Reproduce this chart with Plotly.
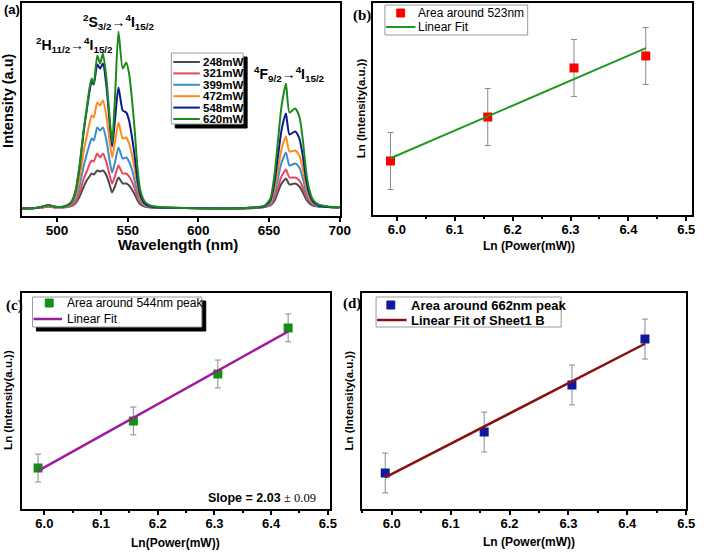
import plotly.graph_objects as go
import numpy as np

# ---------------- data ----------------
wavelength = [475, 485, 490, 494, 498, 503, 507, 510, 513, 516, 519, 521, 523, 524.5, 526,
              528.5, 530.5, 532.5, 535, 537, 539, 541, 543.5, 546.5, 549, 551, 553, 555, 557,
              559, 562, 566, 572, 590, 620, 640, 647, 651, 654, 656.5, 658.5, 660, 662, 664.5,
              668.5, 671.5, 674, 676, 678, 681, 685, 692, 700]

power_labels = ["248mW", "321mW", "399mW", "472mW", "548mW", "620mW"]

int_248 = [0, 0.5, 1, 2, 1, 1, 1.5, 2.5, 5, 12, 22, 28, 32, 35, 34, 38, 37, 38, 33, 25, 16, 22, 31,
           25, 25, 23, 19, 14, 8, 4, 2, 1, 0.5, 0.5, 0, 0.5, 1.5, 3, 8, 17, 24, 27, 30, 24, 25, 22,
           16, 10, 6, 3, 2, 1.5, 1]
int_321 = [0, 0.5, 1, 2, 1, 1, 1.5, 3, 6, 16, 30, 37, 44, 48, 47, 55, 51, 55, 46, 35, 25, 32, 43,
           35, 35, 32, 27, 20, 11, 6, 3, 1.5, 1, 0.5, 0, 0.5, 1.5, 4, 11, 22, 31, 35, 39, 31, 31, 28,
           21, 13, 8, 4, 2, 1.5, 1]
int_399 = [0, 0.5, 1.5, 2.5, 1.5, 1, 2, 4, 9, 23, 43, 54, 64, 70, 68, 81, 78, 81, 68, 50, 36, 46, 61,
           50, 51, 47, 39, 28, 16, 8, 3, 1.5, 1, 0.5, 0, 1, 2, 5, 15, 31, 44, 50, 56, 43, 45, 41,
           30, 18, 10, 5, 2, 1.5, 1]
int_472 = [0, 0.5, 1.5, 3, 1.5, 1, 2.5, 5, 12, 31, 58, 72, 85, 93, 91, 106, 103, 108, 92, 70, 51, 66,
           86, 70, 71, 65, 54, 39, 22, 10, 4, 2, 1, 0.5, 0, 1, 2.5, 6, 20, 40, 57, 65, 72, 57, 58,
           53, 39, 24, 13, 6, 3, 1.5, 1]
int_548 = [0, 0.5, 2, 3.5, 2, 1.5, 3, 6, 16, 42, 78, 98, 117, 127, 124, 144, 140, 145, 122, 90, 62,
           88, 121, 98, 96, 88, 72, 52, 28, 13, 5, 2, 1, 0.5, 0, 1, 2.5, 8, 27, 54, 75, 86, 95, 74,
           77, 70, 52, 31, 17, 7, 3, 1.5, 1]
int_620 = [0, 0.5, 2, 3.5, 2, 1.5, 3, 6, 17, 43, 80, 100, 120, 130, 125, 153, 145, 155, 130, 95, 66,
           110, 177, 140, 146, 135, 110, 78, 40, 18, 7, 3, 1.5, 0.5, 0, 1, 3, 10, 35, 70, 98, 112,
           125, 96, 100, 92, 68, 40, 22, 9, 4, 2, 1.5]

ln_power = [5.989, 6.157, 6.306, 6.430]

ln_int_523 = [9.960, 10.253, 10.580, 10.660]
err_523 = [0.19, 0.19, 0.19, 0.19]

ln_int_544 = [10.065, 10.370, 10.674, 10.972]
err_544 = [0.09, 0.09, 0.09, 0.09]

ln_int_662 = [9.940, 10.213, 10.527, 10.833]
err_662 = [0.133, 0.133, 0.133, 0.133]

x_ticks_a = [500, 550, 600, 650, 700]

# ---------------- styling ----------------
W, H = 709, 552
SANS = "Liberation Sans, Arial, sans-serif"
SERIF = "Liberation Serif, Times New Roman, serif"
spec_colors = ["#4a4a4a", "#e8485e", "#3c8dc8", "#ff8a1e", "#0a1a8c", "#1b8a1b"]


def px(x):
    return x / W


def py(y):
    return 1 - y / H


fig = go.Figure()

spectra = [int_248, int_321, int_399, int_472, int_548, int_620]
for lab, col, vals in zip(power_labels, spec_colors, spectra):
    fig.add_trace(go.Scatter(x=wavelength, y=vals, mode="lines", name=lab,
                             line=dict(color=col, width=2, shape="spline", smoothing=0.6),
                             xaxis="x", yaxis="y", showlegend=False, hoverinfo="skip"))


def fit_panel(xa, ya, yv, err, mcolor, lcolor, lwidth):
    fig.add_trace(go.Scatter(x=ln_power, y=yv, mode="markers",
                             marker=dict(symbol="square", size=9, color=mcolor),
                             error_y=dict(type="data", array=err, color="#8a8a8a",
                                          thickness=1, width=3),
                             xaxis=xa, yaxis=ya, showlegend=False))
    coef = np.polyfit(ln_power, yv, 1)
    xf = [ln_power[0], ln_power[-1]]
    yf = list(np.polyval(coef, xf))
    fig.add_trace(go.Scatter(x=xf, y=yf, mode="lines",
                             line=dict(color=lcolor, width=lwidth),
                             xaxis=xa, yaxis=ya, showlegend=False))


fit_panel("x2", "y2", ln_int_523, err_523, "#ff0000", "#1f9a1f", 2)
fit_panel("x3", "y3", ln_int_544, err_544, "#139013", "#a01a9e", 2.5)
fit_panel("x4", "y4", ln_int_662, err_662, "#10189e", "#8a1010", 2.5)

base_x = dict(showline=True, linecolor="black", linewidth=2, mirror=True, ticks="outside",
              ticklen=4, tickwidth=1.5, tickcolor="black", showgrid=False, zeroline=False,
              ticklabelstandoff=-3,
              tickfont=dict(family=SANS, size=13, color="black", weight="bold"))
base_y = dict(showline=True, linecolor="black", linewidth=2, mirror=True, ticks="",
              showticklabels=False, showgrid=False, zeroline=False)
lin_x = dict(tickmode="linear", tick0=6.0, dtick=0.1, tickformat=".1f",
             minor=dict(tick0=6.0, dtick=0.05, ticks="outside", ticklen=2, tickcolor="black"))

fig.update_layout(
    width=W, height=H, margin=dict(l=0, r=0, t=0, b=0),
    paper_bgcolor="white", plot_bgcolor="white",
    xaxis=dict(base_x, domain=[px(22), px(345)], range=[475, 700], tickvals=x_ticks_a,
               anchor="y", tickfont=dict(family=SANS, size=13.5, color="black", weight="bold")),
    yaxis=dict(base_y, domain=[py(216), py(3)], range=[-7.5, 205.5], anchor="x"),
    xaxis2=dict(base_x, **lin_x, domain=[px(379), px(703)], range=[5.959, 6.51], anchor="y2"),
    yaxis2=dict(base_y, domain=[py(215), py(3)], range=[9.6, 11.013], anchor="x2"),
    xaxis3=dict(base_x, **lin_x, domain=[px(22), px(335)], range=[5.960, 6.5035], anchor="y3"),
    yaxis3=dict(base_y, domain=[py(509), py(293)], range=[9.80, 11.198], anchor="x3"),
    xaxis4=dict(base_x, **lin_x, domain=[px(368), px(697)], range=[5.95, 6.5], anchor="y4"),
    yaxis4=dict(base_y, domain=[py(509), py(293)], range=[9.7, 11.14], anchor="x4"),
)

ann = []
shapes = []


def text(x, y, s, size=12, family=SANS, bold=False, xanchor="center", angle=0, color="black"):
    ann.append(dict(x=px(x), y=py(y), xref="paper", yref="paper", text=s, showarrow=False,
                    xanchor=xanchor, yanchor="middle", textangle=angle,
                    font=dict(family=family, size=size, color=color,
                              weight="bold" if bold else "normal")))


def rect(x0, y0, x1, y1, fill="white", line="#9a9a9a", lw=1):
    shapes.append(dict(type="rect", xref="paper", yref="paper", x0=px(x0), x1=px(x1),
                       y0=py(y1), y1=py(y0), fillcolor=fill,
                       line=dict(color=line, width=lw), layer="above"))


def hline(x0, x1, y, color, lw):
    shapes.append(dict(type="line", xref="paper", yref="paper", x0=px(x0), x1=px(x1),
                       y0=py(y), y1=py(y), line=dict(color=color, width=lw), layer="above"))


# axis titles
text(181, 245, "Wavelength (nm)", size=15, bold=True)
text(8, 101, "Intensity (a.u)", size=14.5, bold=True, angle=-90)
text(537, 246, "Ln (Power(mW))", size=12, bold=True)
text(367, 108, "Ln (Intensity(a.u.))", size=11.5, bold=True, angle=-90)
text(178, 543, "Ln(Power(mW))", size=12, bold=True)
text(8, 400, "Ln (Intensity(a.u.))", size=11.5, bold=True, angle=-90)
text(537, 542, "Ln (Power(mW))", size=12, bold=True)
text(355, 400, "Ln (Intensity(a.u.))", size=11.5, bold=True, angle=-90)

# panel labels
text(2, 10, "(a)", size=13, bold=True, xanchor="left")
text(357, 15, "(b)", size=15, family=SERIF, bold=True, xanchor="left")
text(4, 305, "(c)", size=15, family=SERIF, bold=True, xanchor="left")
text(346, 303, "(d)", size=15, family=SERIF, bold=True, xanchor="left")

# transition labels
text(76, 45, "<sup>2</sup>H<sub>11/2</sub>→<sup>4</sup>I<sub>15/2</sub>", size=14, bold=True)
text(120, 22, "<sup>2</sup>S<sub>3/2</sub>→<sup>4</sup>I<sub>15/2</sub>", size=14, bold=True)
text(294, 74, "<sup>4</sup>F<sub>9/2</sub>→<sup>4</sup>I<sub>15/2</sub>", size=14, bold=True)

# legend (a)
rect(178, 57, 251, 128, fill="black", line="black")
rect(174, 53, 247, 124, fill="white", line="#9a9a9a")
for i, (lab, col) in enumerate(zip(power_labels, spec_colors)):
    yy = 62 + 11.4 * i
    hline(176, 203, yy, col, 2)
    text(204, yy, lab, size=11.5, bold=True, xanchor="left")

# legend (b)
rect(391, 5, 536, 35, fill="white", line="#9a9a9a")
rect(403, 9, 411, 17, fill="#ff0000", line="#ff0000")
text(423, 13, "Area around 523nm", size=12, xanchor="left")
hline(392, 422, 27, "#1f9a1f", 2)
text(423, 27, "Linear Fit", size=12, xanchor="left")

# legend (c)
rect(37, 301, 209, 331, fill="black", line="black")
rect(33, 297, 205, 327, fill="white", line="#9a9a9a")
rect(46, 299, 54, 307, fill="#139013", line="#139013")
text(66, 303, "Area around 544nm peak", size=12, xanchor="left")
hline(34, 63, 319, "#a01a9e", 2.5)
text(66, 319, "Linear Fit", size=12, xanchor="left")

# legend (d)
rect(382, 297, 570, 327, fill="white", line="#9a9a9a")
rect(393, 301, 401, 309, fill="#10189e", line="#10189e")
text(415, 305, "Area around 662nm peak", size=13, bold=True, xanchor="left")
hline(383, 413, 320, "#8a1010", 2.5)
text(415, 320, "Linear Fit of Sheet1 B", size=13, bold=True, xanchor="left")

# slope text
text(323, 498, "<b>Slope = 2.03</b> <span style='font-family:Liberation Serif'>± 0.09</span>",
     size=12.5, xanchor="right")

fig.update_layout(annotations=ann, shapes=shapes)
fig.write_html("out.html", config={"displayModeBar": False},
               post_script="document.body.style.margin='0px';document.body.style.overflow='hidden';")
